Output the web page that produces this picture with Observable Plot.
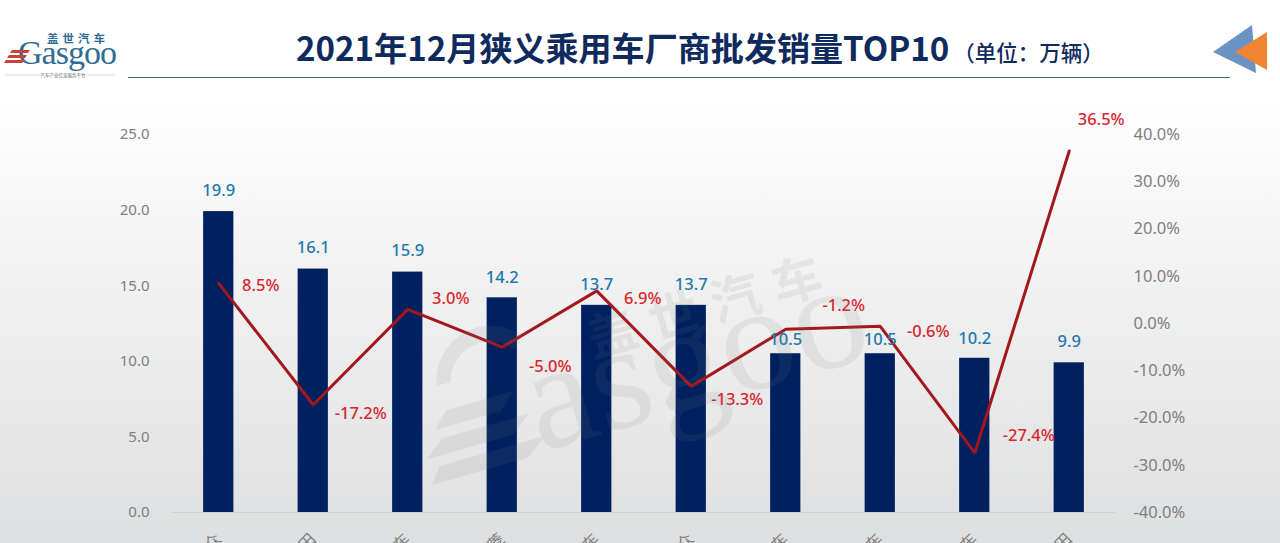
<!DOCTYPE html>
<html><head><meta charset="utf-8">
<script src="https://cdn.jsdelivr.net/npm/d3@7"></script>
<script src="https://cdn.jsdelivr.net/npm/@observablehq/plot@0.6"></script>
<style>
html,body{margin:0;padding:0;width:1280px;height:543px;overflow:hidden;background:linear-gradient(#fff 0,#fff 90px,#dedfe0 543px);}
#wrap{position:relative;width:1280px;height:543px;overflow:hidden;}
#wrap svg.plot{position:absolute;left:0;top:0;background:transparent;}
#title{position:absolute;left:296px;top:24px;font:700 33.1px "Noto Sans CJK SC";color:#0f2a5c;white-space:nowrap;line-height:46px;}
#title span{font-size:21.5px;font-weight:500;margin-left:4px;}
#rule{position:absolute;left:128px;top:77px;width:1102px;height:1px;background:#4a6780;}
#deco,#logo,#mark{position:absolute;left:0;top:0;}
</style></head><body><div id="wrap">
<svg id="mark" width="1280" height="543"><g transform="translate(470,472) rotate(-16)" fill="#7a7a7a" opacity="0.11"><text x="73" y="0" font-family="Liberation Serif" font-size="150">asgoo</text><path d="M-28 -14h110l-22 16h-100z"/><path d="M-18 -40h90l-20 16h-90z"/><path d="M-6 -66h70l-18 16h-68z"/><path d="M-8 -92a54 54 0 0 1 96 -24l-12 10a40 40 0 0 0 -70 14z"/><text x="150" y="-76" font-family="Noto Sans CJK SC" font-weight="700" font-size="50" letter-spacing="14">盖世汽车</text></g></svg>
<div id="title">2021年12月狭义乘用车厂商批发销量TOP10<span>（单位：万辆）</span></div>
<div id="rule"></div>
<svg id="logo" width="130" height="90"><text x="47" y="43" font-family="Noto Sans CJK SC" font-weight="700" font-size="11.5" letter-spacing="4" fill="#2e6c95">盖世汽车</text><text x="18" y="64" font-family="Liberation Serif" font-size="34" letter-spacing="-1" fill="#2e6c95">Gasgoo</text><g fill="#c8413b"><path d="M12 50h18l-2 3h-18z"/><path d="M9 55h18l-2 3h-18z"/><path d="M6 60h18l-2 3h-18z"/></g><line x1="5" x2="115" y1="75" y2="75" stroke="#ccc" stroke-width="0.7"/><text x="63" y="77" text-anchor="middle" font-family="Noto Sans CJK SC" font-size="4.5" fill="#666" paint-order="stroke" stroke="#fff" stroke-width="2">汽车产业信息服务平台</text></svg>
<svg id="deco" width="1280" height="100" style="pointer-events:none"><path d="M1213 52L1252 25L1256 73Z" fill="#6b93c4"/><path d="M1235 52L1267 32L1267 70Z" fill="#ef8433"/></svg>
</div>
<script>
const categories = ["一汽大众","一汽丰田","吉利汽车","上汽通用五菱","长安汽车","上汽大众","奇瑞汽车","长城汽车","比亚迪汽车","广汽丰田"];
const sales = [19.9,16.1,15.9,14.2,13.7,13.7,10.5,10.5,10.2,9.9];
const growth = [8.5,-17.2,3.0,-5.0,6.9,-13.3,-1.2,-0.6,-27.4,36.5];
const leftTicks = [0,5,10,15,20,25];
const rightTicks = [-40,-30,-20,-10,0,10,20,30,40];
// hand placement of the data labels, in pixels from their points
const salesDy = [-21,-21,-21,-20,-21,-21,-14,-14,-20,-21];
const growthDx = [42,47.5,43,48,46,46,58,48,54,32];
const growthDy = [2,9,-11,20,8,13,-23,5,-17,-31];

const toLeft = p => (p + 40) / 80 * 25;
const rows = categories.map((c,i)=>({c,s:sales[i],g:growth[i],sd:salesDy[i],dx:growthDx[i],dy:growthDy[i]}));
const labelFont = "Noto Sans";
const plot = Plot.plot({
  width:1280,height:543,
  marginLeft:171,marginRight:164,marginTop:134,marginBottom:31,
  style:{background:"transparent"},
  x:{domain:categories,paddingInner:0.68,paddingOuter:0.34,align:0.5,round:false,label:null},
  y:{domain:[0,25],label:null},
  marks:[
    Plot.ruleY([0],{stroke:"#d2d2d2",strokeWidth:1}),
    Plot.barY(rows,{x:"c",y:"s",fill:"#00205f"}),
    Plot.line(rows,{x:"c",y:d=>toLeft(d.g),stroke:"#a3181d",strokeWidth:3,strokeLinejoin:"miter",curve:"linear"}),
    ...rows.map(d=>Plot.text([d],{x:"c",y:"s",text:r=>r.s.toFixed(1),dy:d.sd,fill:"#1f78ad",fontSize:16.5,fontWeight:500,fontFamily:labelFont})),
    ...rows.map(d=>Plot.text([d],{x:"c",y:r=>toLeft(r.g),text:r=>r.g.toFixed(1)+"%",dx:d.dx,dy:d.dy,fill:"#d9262c",fontSize:16.5,fontWeight:500,fontFamily:labelFont})),
    Plot.axisY(leftTicks,{anchor:"left",tickSize:0,tickPadding:22,tickFormat:d=>d.toFixed(1),fill:"#7f7f7f",fontSize:15,fontFamily:labelFont,label:null}),
    Plot.axisY(rightTicks.map(toLeft),{anchor:"right",tickSize:0,tickPadding:17,tickFormat:d=>(d/25*80-40).toFixed(1)+"%",fill:"#7f7f7f",fontSize:16.5,fontFamily:labelFont,label:null,textAnchor:"start"}),
    Plot.axisX({anchor:"bottom",tickSize:0,tickPadding:24,tickRotate:-45,fill:"#7f7f7f",fontSize:16,fontFamily:"Noto Sans CJK SC",label:null})
  ]
});
document.getElementById("wrap").appendChild(plot);
document.getElementById("wrap").insertBefore(document.getElementById("mark"),plot);
</script></body></html>
